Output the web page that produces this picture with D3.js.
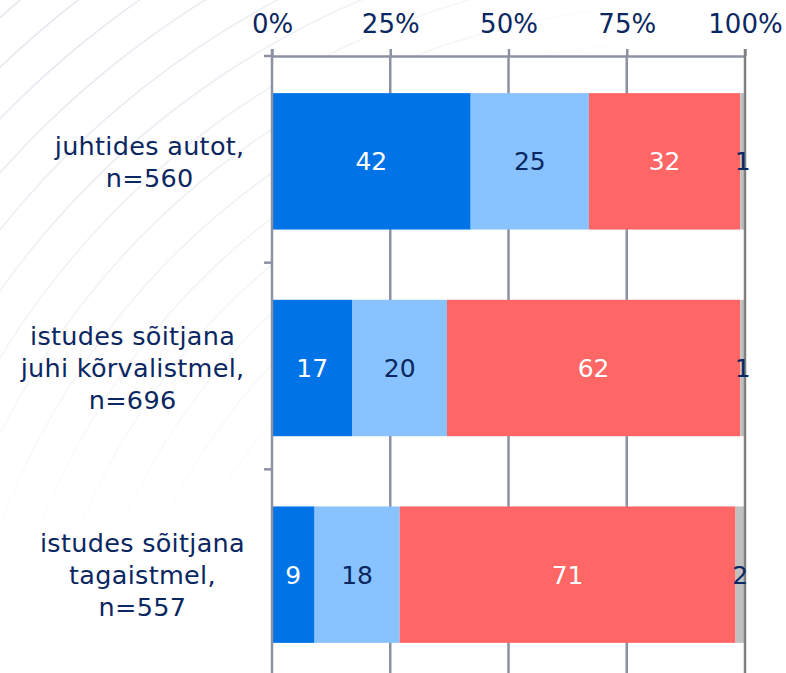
<!DOCTYPE html>
<html>
<head>
<meta charset="utf-8">
<script src="https://cdn.jsdelivr.net/npm/d3@7"></script>
<style>
  html, body { margin: 0; padding: 0; background: #fff; }
  svg { display: block; }
</style>
</head>
<body>
<div id="chart"></div>
<script>
// categories (each label split into its lines)
const categories = ["driver", "front", "back"];
const categoryLabels = [
  ["juhtides autot,", "n=560"],
  ["istudes sõitjana", "juhi kõrvalistmel,", "n=696"],
  ["istudes sõitjana", "tagaistmel,", "n=557"]
];

// series values (percent)
const seriesKeys = ["s1", "s2", "s3", "s4"];
const s1 = [42, 17, 9];
const s2 = [25, 20, 18];
const s3 = [32, 62, 71];
const s4 = [1, 1, 2];

const tickValues = [0, 25, 50, 75, 100];

const width = 786;
const height = 673;
const navy = "#0a2762";
const font = "'DejaVu Sans', Verdana, sans-serif";

const colors = ["#0073e6", "#88c2ff", "#ff6666", "#c0c0c0"];
const labelColors = ["#ffffff", navy, "#ffffff", navy];

const rows = categories.map((c, i) => ({ cat: c, s1: s1[i], s2: s2[i], s3: s3[i], s4: s4[i] }));
const stacked = d3.stack().keys(seriesKeys)(rows);

const svg = d3.select("#chart").append("svg")
  .attr("width", width)
  .attr("height", height);

// faint swirl decoration in the background
const deco = svg.append("g");
const defs = svg.append("defs");
const grad = defs.append("radialGradient").attr("id", "fade")
  .attr("cx", "0.05").attr("cy", "0.05").attr("r", "0.8");
grad.append("stop").attr("offset", "0").attr("stop-color", "#fff").attr("stop-opacity", 1);
grad.append("stop").attr("offset", "1").attr("stop-color", "#fff").attr("stop-opacity", 0);
const mask = defs.append("mask").attr("id", "decoMask");
mask.append("rect").attr("width", width).attr("height", height).attr("fill", "url(#fade)");
deco.attr("mask", "url(#decoMask)");
d3.range(0, 18).forEach(i => {
  deco.append("ellipse")
    .attr("cx", 700).attr("cy", 820)
    .attr("rx", 560 + i * 38).attr("ry", 600 + i * 36)
    .attr("transform", "rotate(-12,700,820)")
    .attr("fill", "none").attr("stroke", "#e3e7ee").attr("stroke-width", 1.6);
});

const x = d3.scaleLinear().domain([0, 100]).range([272, 745]);
const y = d3.scaleBand().domain(categories).range([58, 678]).paddingInner(0.34).paddingOuter(0.17);

const axisY = 56;

// white plot background
svg.append("rect")
  .attr("x", x(0)).attr("y", axisY)
  .attr("width", x(100) - x(0)).attr("height", height - axisY)
  .attr("fill", "#fff");

// top axis with ticks
const xAxis = d3.axisTop(x).tickValues(tickValues).tickFormat(d => d + "%").tickSize(7).tickSizeOuter(0);
const gx = svg.append("g").attr("transform", `translate(0,${axisY})`).call(xAxis);
gx.select(".domain").attr("stroke", "#8c91a3").attr("stroke-width", 2.5);
gx.selectAll(".tick line").attr("stroke", "#8c91a3").attr("stroke-width", 2.5);
gx.selectAll(".tick text")
  .attr("y", -23)
  .attr("fill", navy)
  .attr("font-size", 26)
  .attr("font-family", font);

// vertical gridlines
svg.append("g").selectAll("line")
  .data(tickValues.slice(1, 4))
  .join("line")
  .attr("x1", d => x(d)).attr("x2", d => x(d))
  .attr("y1", axisY).attr("y2", height)
  .attr("stroke", "#8c91a3").attr("stroke-width", 2.5);

// bars
svg.append("g").selectAll("g")
  .data(stacked)
  .join("g")
  .attr("fill", (d, i) => colors[i])
  .selectAll("rect")
  .data(d => d)
  .join("rect")
  .attr("x", d => x(d[0]))
  .attr("y", d => y(d.data.cat))
  .attr("width", d => x(d[1]) - x(d[0]))
  .attr("height", y.bandwidth());

// right border line
svg.append("line")
  .attr("x1", x(100)).attr("x2", x(100))
  .attr("y1", axisY - 7).attr("y2", height)
  .attr("stroke", "#808080").attr("stroke-width", 2.5);

// value labels
svg.append("g").selectAll("g")
  .data(stacked)
  .join("g")
  .attr("fill", (d, i) => labelColors[i])
  .selectAll("text")
  .data(d => d)
  .join("text")
  .attr("x", d => (x(d[0]) + x(d[1])) / 2)
  .attr("y", d => y(d.data.cat) + y.bandwidth() / 2)
  .attr("dy", "0.36em")
  .attr("text-anchor", "middle")
  .attr("font-size", 25)
  .attr("font-family", font)
  .text(d => d[1] - d[0]);

// left axis
svg.append("line")
  .attr("x1", x(0)).attr("x2", x(0))
  .attr("y1", axisY - 7).attr("y2", height)
  .attr("stroke", "#8c91a3").attr("stroke-width", 2.5);
const bounds = categories.map((c, i) => axisY + i * y.step());
svg.append("g").selectAll("line")
  .data(bounds)
  .join("line")
  .attr("x1", x(0) - 8).attr("x2", x(0))
  .attr("y1", d => d).attr("y2", d => d)
  .attr("stroke", "#8c91a3").attr("stroke-width", 2.5);

// category labels: centered lines, block right-aligned at x=245
const lineH = 32;
const labelG = svg.append("g");
categories.forEach((c, i) => {
  const lines = categoryLabels[i];
  const t = labelG.append("text")
    .attr("fill", navy)
    .attr("font-size", 25.5)
    .attr("letter-spacing", 0.3)
    .attr("font-family", font)
    .attr("text-anchor", "middle");
  const cy = y(c) + y.bandwidth() / 2;
  const y0 = cy - (lines.length - 1) * lineH / 2;
  lines.forEach((l, j) => {
    t.append("tspan").attr("x", 0).attr("y", y0 + j * lineH).attr("dy", "0.36em").text(l);
  });
  const w = t.node().getBBox().width;
  t.attr("transform", `translate(${245 - w / 2},0)`);
});
</script>
</body>
</html>
